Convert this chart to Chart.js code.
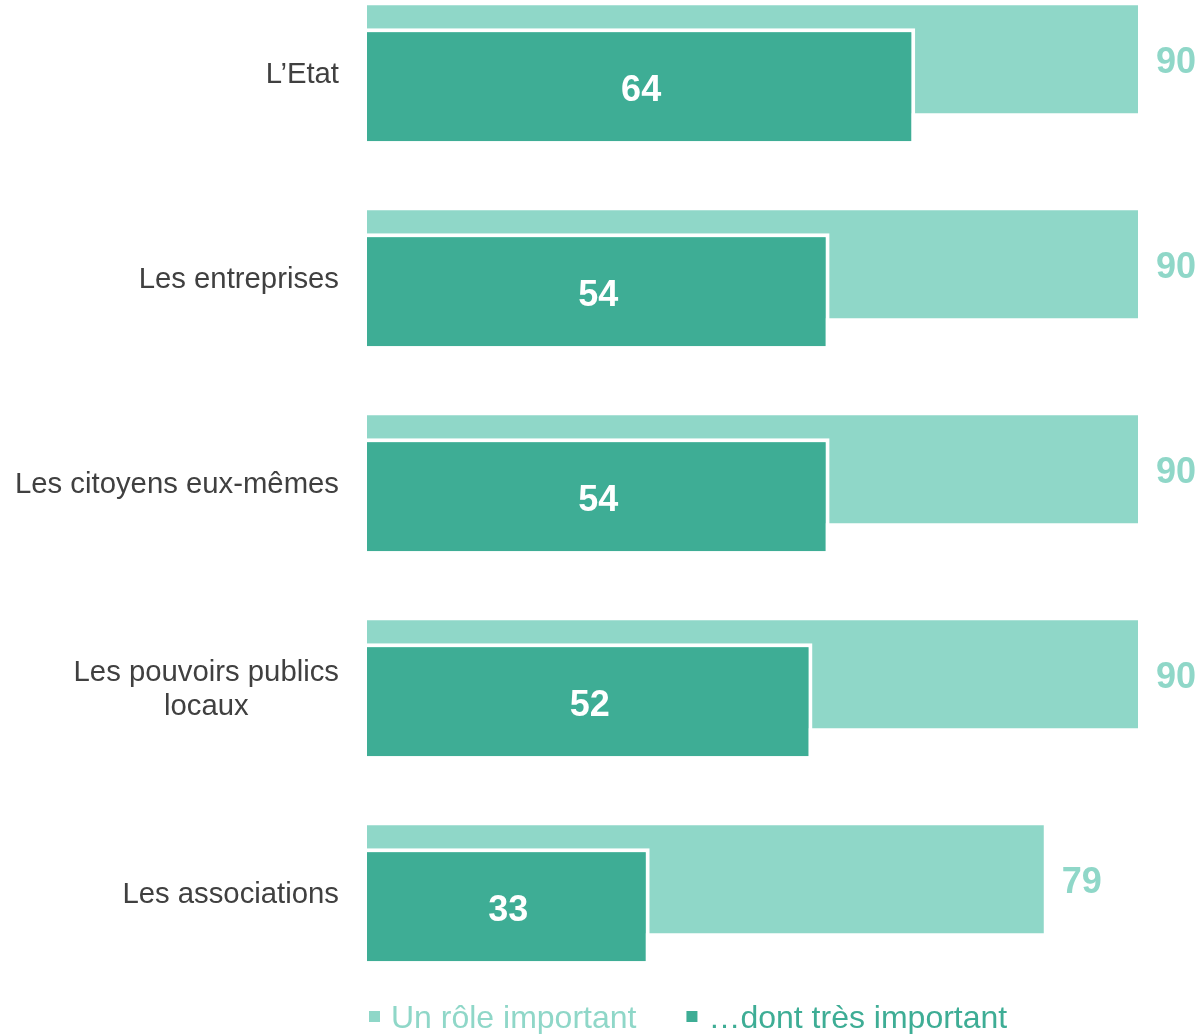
<!DOCTYPE html>
<html>
<head>
<meta charset="utf-8">
<script src="https://cdn.jsdelivr.net/npm/chart.js@4.4.1/dist/chart.umd.min.js"></script>
<style>
	html, body { margin: 0; padding: 0; background: #ffffff; }
	#chart-wrapper { width: 1204px; height: 1034px; position: relative; }
</style>
</head>
<body>
<div id="chart-wrapper"><canvas id="roles-chart-canvas"></canvas></div>
<script>
// data
const categoryLabels = [["L\u2019Etat"], ["Les entreprises"], ["Les citoyens eux-mêmes"], ["Les pouvoirs publics", "locaux"], ["Les associations"]];
const roleImportant = [90, 90, 90, 90, 79];
const roleTresImportant = [64, 54, 54, 52, 33];
const seriesNames = ["Un rôle important", "\u2026dont très important"];

const lightGreen = "#8fd7c8";
const darkGreen = "#3ead95";
const fontFamily = "'Liberation Sans', Arial, sans-serif";

// dark bars sit in the lower slot but have to be painted over the light ones
const drawOrderPlugin =
{
	id: "drawOrder",
	beforeDatasetDraw(chart, args)
	{
		if(args.index == 1)
			return false;
	},
	afterDatasetsDraw(chart)
	{
		chart.getDatasetMeta(1).controller.draw();
	}
};

// category names on the left, lines centered inside a right aligned block
const categoryLabelPlugin =
{
	id: "categoryLabels",
	afterDraw(chart)
	{
		const ctx = chart.ctx;
		const yScale = chart.scales.y;
		const rightX = chart.chartArea.left - 28;
		ctx.save();
		ctx.font = "29.3px " + fontFamily;
		ctx.fillStyle = "#404040";
		ctx.textBaseline = "middle";
		ctx.textAlign = "center";
		for(let i = 0; i < categoryLabels.length; i++)
		{
			let lines = categoryLabels[i];
			let widest = 0;
			for(let line of lines)
				widest = Math.max(widest, ctx.measureText(line).width);
			let centerX = rightX - widest / 2;
			let y = yScale.getPixelForValue(i) + 3 - (lines.length - 1) * 17;
			for(let line of lines)
			{
				ctx.fillText(line, centerX, y);
				y += 34;
			}
		}
		ctx.restore();
	}
};

// numbers: white inside the dark bars, coloured after the light bars
const valueLabelPlugin =
{
	id: "valueLabels",
	afterDatasetsDraw(chart)
	{
		const ctx = chart.ctx;
		ctx.save();
		ctx.font = "bold 36px " + fontFamily;
		ctx.textBaseline = "middle";
		chart.getDatasetMeta(0).data.forEach((bar, i) =>
		{
			ctx.fillStyle = lightGreen;
			ctx.textAlign = "left";
			ctx.fillText(roleImportant[i], bar.x + 18, bar.y + 4);
		});
		chart.getDatasetMeta(1).data.forEach((bar, i) =>
		{
			ctx.fillStyle = "#ffffff";
			ctx.textAlign = "center";
			ctx.fillText(roleTresImportant[i], (bar.x + bar.base) / 2, bar.y + 6);
		});
		ctx.restore();
	}
};

// legend under the bars, text in the series colour
const legendPlugin =
{
	id: "bottomLegend",
	afterDraw(chart)
	{
		const ctx = chart.ctx;
		const colors = [lightGreen, darkGreen];
		let x = chart.chartArea.left + 2;
		const y = 1018;
		ctx.save();
		ctx.font = "32px " + fontFamily;
		ctx.textBaseline = "middle";
		ctx.textAlign = "left";
		for(let i = 0; i < seriesNames.length; i++)
		{
			ctx.fillStyle = colors[i];
			ctx.fillRect(x, y - 7, 11, 11);
			ctx.fillText(seriesNames[i], x + 22, y + 1);
			x += 22 + ctx.measureText(seriesNames[i]).width + 50;
		}
		ctx.restore();
	}
};

const chart = new Chart(document.getElementById("roles-chart-canvas").getContext("2d"),
{
	type: "bar",
	data:
	{
		labels: categoryLabels.map(l => l.join(" ")),
		datasets:
		[{
			label: seriesNames[0],
			data: roleImportant,
			backgroundColor: lightGreen,
			borderWidth: 0,
			clip: false,
			barPercentage: 4.235,
			categoryPercentage: 0.2488
		},
		{
			label: seriesNames[1],
			data: roleTresImportant,
			backgroundColor: darkGreen,
			borderColor: "#ffffff",
			borderWidth: { top: 4, right: 4, bottom: 0, left: 0 },
			borderSkipped: false,
			clip: false,
			barPercentage: 4.431,
			categoryPercentage: 0.2488
		}]
	},
	options:
	{
		indexAxis: "y",
		responsive: true,
		maintainAspectRatio: false,
		animation: false,
		layout:
		{
			padding: { left: 367, right: 66, top: 72, bottom: 142 }
		},
		plugins:
		{
			legend: { display: false },
			tooltip: { enabled: false }
		},
		scales:
		{
			x:
			{
				display: false,
				min: 0,
				max: 90
			},
			y:
			{
				display: false,
				offset: false
			}
		}
	},
	plugins: [drawOrderPlugin, categoryLabelPlugin, valueLabelPlugin, legendPlugin]
});
</script>
</body>
</html>
